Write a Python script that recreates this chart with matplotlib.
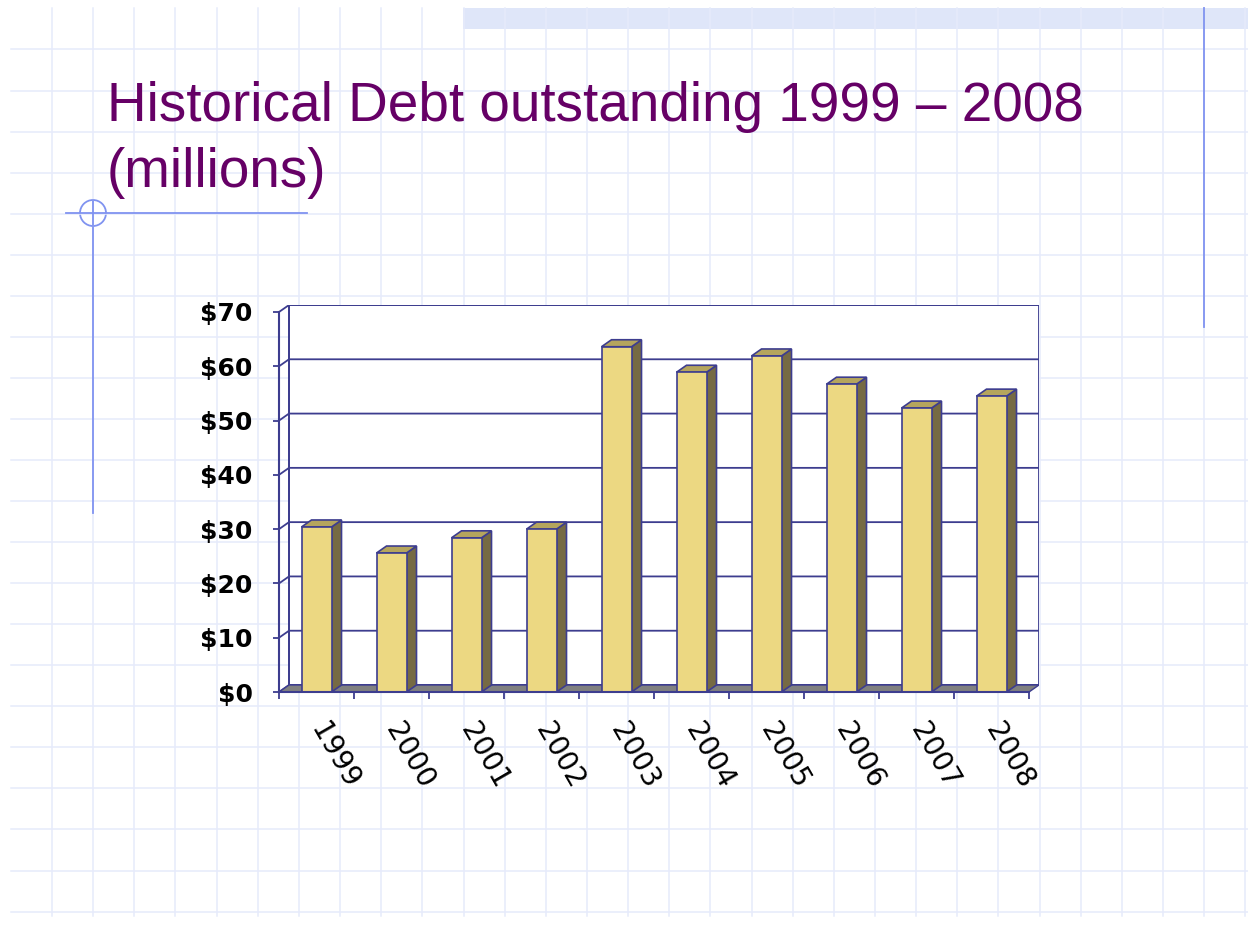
import numpy as np
import matplotlib.pyplot as plt
from matplotlib.patches import Polygon, Rectangle, Circle

years = ['1999', '2000', '2001', '2002', '2003', '2004', '2005', '2006', '2007', '2008']
debt = [30.4, 25.6, 28.4, 30.0, 63.6, 58.9, 61.9, 56.7, 52.3, 54.5]
yticks = [0, 10, 20, 30, 40, 50, 60, 70]
ylabels = ['$' + str(v) for v in yticks]
title = 'Historical Debt outstanding 1999 \u2013 2008\n(millions)'

edge = '#3d3d8f'
front_c = '#ecd882'
side_c = '#766a43'
top_c = '#b5a55d'
floor_c = '#808080'

fig = plt.figure(figsize=(12.48, 9.3), dpi=100, facecolor='white')

# slide background (grid paper look)
bg = fig.add_axes([0, 0, 1, 1], zorder=0)
bg.set_xlim(0, 1248)
bg.set_ylim(930, 0)
bg.axis('off')
for x in np.arange(52, 1248, 41.15):
    bg.plot([x, x], [8, 916], color='#e6ebfb', lw=1.1)
for y in np.arange(49.5, 930, 41.05):
    bg.plot([11, 1248], [y, y], color='#e6ebfb', lw=1.1)
bg.add_patch(Rectangle((463, 8), 785, 21, color='#dfe6f9', lw=0))
bg.plot([1204, 1204], [8, 327], color='#8093f0', lw=1.3)
bg.plot([66, 307], [213, 213], color='#8093f0', lw=1.3)
bg.plot([93, 93], [200, 513], color='#8093f0', lw=1.3)
bg.add_patch(Circle((93, 213), 13, fill=False, ec='#8093f0', lw=1.3))
bg.text(107, 187, title, color='#660066', fontsize=39.5, family='Liberation Sans',
        ha='left', va='baseline', linespacing=1.35)

# chart
ax = fig.add_axes([279 / 1248, 1 - 692 / 930, 760 / 1248, 387 / 930], zorder=1)
dx, dy = 10 / 75, 7 / 5.43
n = len(years)
ax.set_xlim(0, n + dx)
ax.set_ylim(0, 70 + dy)
ax.patch.set_alpha(0)

# back wall + gridlines
ax.add_patch(Rectangle((dx, dy), n, 70, fc='white', ec=edge, lw=1.3, zorder=1))
for v in yticks:
    ax.plot([0, dx, n + dx], [v, v + dy, v + dy], color=edge, lw=1.3, zorder=2)
ax.plot([dx, dx], [dy, 70 + dy], color=edge, lw=1.3, zorder=2)

# floor
ax.add_patch(Polygon([(0, 0), (n, 0), (n + dx, dy), (dx, dy)], closed=True,
                     fc=floor_c, ec=edge, lw=1.0, zorder=3))

# bars
w = 0.4
for i, v in enumerate(debt):
    x0 = i + 0.5 - w / 2
    x1 = x0 + w
    ax.add_patch(Polygon([(x1, 0), (x1 + dx, dy), (x1 + dx, v + dy), (x1, v)],
                         closed=True, fc=side_c, ec=edge, lw=1.2, zorder=4))
    ax.add_patch(Polygon([(x0, v), (x1, v), (x1 + dx, v + dy), (x0 + dx, v + dy)],
                         closed=True, fc=top_c, ec=edge, lw=1.2, zorder=4))
    ax.add_patch(Rectangle((x0, 0), w, v, fc=front_c, ec=edge, lw=1.2, zorder=5))

for s in ['top', 'right']:
    ax.spines[s].set_visible(False)
ax.spines['left'].set_bounds(0, 70)
ax.spines['bottom'].set_bounds(0, n)
for s in ['left', 'bottom']:
    ax.spines[s].set_color(edge)
    ax.spines[s].set_linewidth(1.5)
    ax.spines[s].set_zorder(6)

ax.set_yticks(yticks)
ax.set_yticklabels(ylabels, fontsize=18, fontweight='bold', family='DejaVu Sans')
ax.tick_params(axis='y', length=4, width=1.3, color=edge, pad=15)

ax.set_xticks(np.arange(0, n + 1))
ax.set_xticklabels([])
ax.set_xticks(np.arange(n) + 0.5, minor=True)
ax.set_xticklabels(years, minor=True, rotation=-60, ha='left', va='center',
                   rotation_mode='anchor', fontsize=20, family='DejaVu Sans')
ax.tick_params(axis='x', which='major', length=5, width=1.3, color=edge)
ax.tick_params(axis='x', which='minor', length=0, pad=24)

fig.savefig('out.png', dpi=100, facecolor='white')
